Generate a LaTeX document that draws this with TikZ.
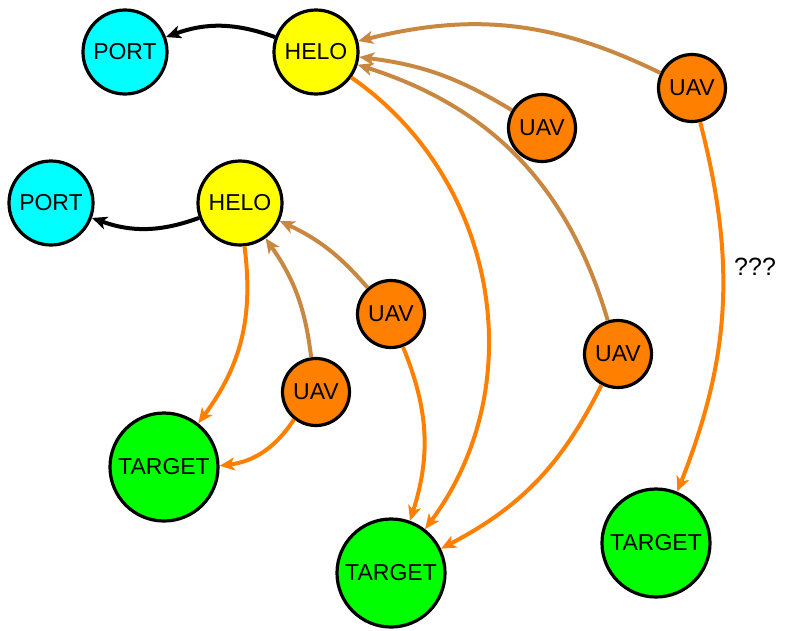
\documentclass[tikz,border=0pt]{standalone}
\usepackage{fontspec}
\setmainfont{Liberation Sans}
\usetikzlibrary{arrows.meta}
\definecolor{portcol}{RGB}{0,255,255}
\definecolor{helocol}{RGB}{255,255,0}
\definecolor{uavcol}{RGB}{255,128,0}
\definecolor{tgtcol}{RGB}{0,255,0}
\definecolor{linkcol}{RGB}{200,136,66}
\tikzset{
  unit/.style={circle, draw, line width=3.2pt, inner sep=1pt, font=\fontsize{23}{26}\selectfont},
  port/.style={unit, fill=portcol, minimum size=84pt},
  helo/.style={unit, fill=helocol, minimum size=84pt},
  uav/.style={unit, fill=uavcol, minimum size=67pt},
  target/.style={unit, fill=tgtcol, minimum size=108pt},
  edge/.style={line width=4pt, -{Stealth[length=15pt,width=13pt,inset=4pt]}},
  lead/.style={edge, draw=black},
  link/.style={edge, draw=linkcol},
  task/.style={edge, draw=uavcol}
}
\begin{document}
\begin{tikzpicture}[x=1pt,y=1pt]
  \useasboundingbox (0,0) rectangle (787,-630);
  % units
  \node[port] (port1) at (125,-52) {PORT};
  \node[helo] (helo1) at (316,-52) {HELO};
  \node[port] (port2) at (51,-203) {PORT};
  \node[helo] (helo2) at (240,-203) {HELO};
  \node[uav] (uav1) at (542,-128) {UAV};
  \node[uav] (uav2) at (692,-88) {UAV};
  \node[uav] (uav3) at (391,-314) {UAV};
  \node[uav] (uav4) at (316,-392) {UAV};
  \node[uav] (uav5) at (618,-354) {UAV};
  \node[target] (tgt1) at (164,-467) {TARGET};
  \node[target] (tgt2) at (391,-573) {TARGET};
  \node[target] (tgt3) at (656,-543) {TARGET};
  % connectors
  \draw[lead] (helo1) to[bend right=20] (port1);
  \draw[lead] (helo2) to[bend left=20] (port2);
  \draw[link] (uav2) to[bend right=20] (helo1);
  \draw[link] (uav1) to[bend right=12] (helo1);
  \draw[link] (uav5) to[bend right=28] (helo1);
  \draw[link] (uav3) to[bend right=12] (helo2);
  \draw[link] (uav4) to[bend right=14] (helo2);
  \draw[task] (helo1) to[bend left=46] (tgt2);
  \draw[task] (helo2) to[bend left=22] (tgt1);
  \draw[task] (uav4) to[bend left=25] (tgt1);
  \draw[task] (uav3) to[bend left=20] (tgt2);
  \draw[task] (uav5) to[bend left=18] (tgt2);
  \draw[task] (uav2) to[bend left=18] node[pos=0.38, right=6pt, font=\fontsize{25}{28}\selectfont] (unknown) {???} (tgt3);
\end{tikzpicture}
\end{document}
